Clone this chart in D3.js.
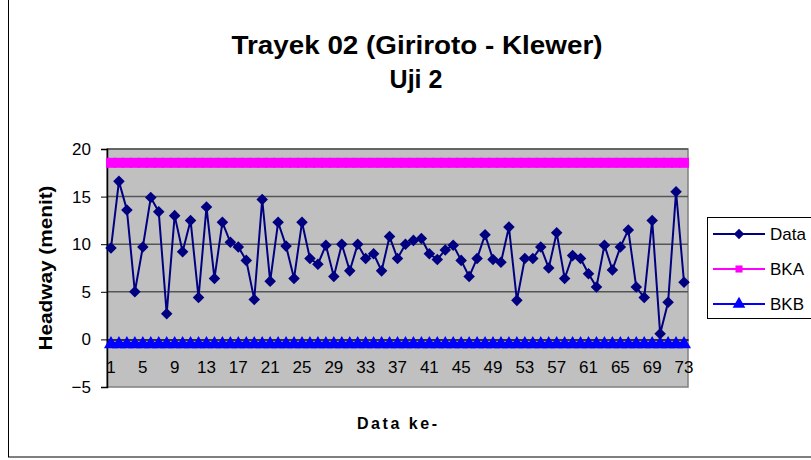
<!DOCTYPE html>
<html>
<head>
<meta charset="utf-8">
<script src="https://cdn.jsdelivr.net/npm/d3@7"></script>
<style>
	body { margin: 0; background: #fff; }
	svg { display: block; font-family: Arial, "Liberation Sans", sans-serif; }
</style>
</head>
<body>
<div id="chart"></div>
<script>
'use strict';

// headway per trip (menit)
const dataKe = d3.range(1, 74);
const headway = [
	9.6, 16.6, 13.6, 5.0, 9.7, 14.9, 13.4, 2.7, 13.0, 9.2,
	12.5, 4.4, 13.9, 6.4, 12.3, 10.2, 9.7, 8.3, 4.2, 14.7,
	6.1, 12.3, 9.8, 6.4, 12.3, 8.5, 7.9, 9.9, 6.6, 10.0,
	7.2, 10.0, 8.5, 9.0, 7.2, 10.8, 8.5, 10.0, 10.4, 10.6,
	9.0, 8.4, 9.4, 9.9, 8.3, 6.6, 8.5, 11.0, 8.4, 8.1,
	11.8, 4.1, 8.5, 8.5, 9.7, 7.5, 11.2, 6.4, 8.8, 8.5,
	6.9, 5.5, 9.9, 7.3, 9.7, 11.5, 5.5, 4.4, 12.5, 0.6,
	3.9, 15.5, 6.0
];
const bka = 18.55;   // batas kontrol atas
const bkb = -0.5;    // batas kontrol bawah
const yTicks = [-5, 0, 5, 10, 15, 20];
const xTickLabels = dataKe.filter(d => (d - 1) % 4 === 0);
const legendNames = ["Data", "BKA", "BKB"];

const width = 811, height = 460;
const plot = { left: 107, right: 688, top: 149, bottom: 387 };

const svg = d3.select("#chart")
	.append("svg")
		.attr("width", width)
		.attr("height", height);

// chart border
svg.append("rect")
	.attr("x", 8.5).attr("y", -2)
	.attr("width", width)
	.attr("height", 459)
	.attr("fill", "#fff")
	.attr("stroke", "#000")
	.attr("stroke-width", 1);

const xScale = d3.scaleBand()
	.domain(dataKe)
	.range([plot.left, plot.right])
	.padding(0)
	;
const xc = d => xScale(d) + xScale.bandwidth() / 2;

const yScale = d3.scaleLinear()
	.domain([-5, 20])
	.range([plot.bottom, plot.top])
	;

// plot area
svg.append("rect")
	.attr("x", plot.left).attr("y", plot.top)
	.attr("width", plot.right - plot.left)
	.attr("height", plot.bottom - plot.top)
	.attr("fill", "#c0c0c0")
	.attr("stroke", "#808080")
	.attr("stroke-width", 1.5);

// gridlines
svg.append("g")
	.selectAll("line")
	.data(yTicks.filter(t => t > 0))
	.join("line")
		.attr("x1", plot.left).attr("x2", plot.right)
		.attr("y1", d => yScale(d)).attr("y2", d => yScale(d))
		.attr("stroke", "#555")
		.attr("stroke-width", 1.5);

// y axis
const yAxis = svg.append("g")
	.attr("transform", `translate(${plot.left},0)`)
	.call(d3.axisLeft(yScale).tickValues(yTicks).tickSize(6).tickPadding(10));
yAxis.select(".domain").attr("stroke", "#000").attr("stroke-width", 1.5);
yAxis.selectAll("text").attr("font-size", 17).attr("fill", "#000").attr("font-family", "Arial, 'Liberation Sans', sans-serif");

// x axis crosses at 0
const xAxis = svg.append("g")
	.attr("transform", `translate(0,${yScale(0)})`)
	.call(d3.axisBottom(xScale).tickValues(xTickLabels).tickSize(0).tickPadding(22));
xAxis.select(".domain").attr("stroke", "#000").attr("stroke-width", 1.5);
xAxis.selectAll("text").attr("font-size", 17).attr("fill", "#000").attr("font-family", "Arial, 'Liberation Sans', sans-serif");

// BKA
const lineAt = v => d3.line().x(d => xc(d)).y(() => yScale(v));
svg.append("path")
	.datum(dataKe)
	.attr("d", lineAt(bka))
	.attr("fill", "none")
	.attr("stroke", "#ff00ff")
	.attr("stroke-width", 2);
svg.append("g")
	.selectAll("rect")
	.data(dataKe)
	.join("rect")
		.attr("x", d => xc(d) - 5).attr("y", yScale(bka) - 5)
		.attr("width", 10).attr("height", 10)
		.attr("fill", "#ff00ff");

// BKB
svg.append("path")
	.datum(dataKe)
	.attr("d", lineAt(bkb))
	.attr("fill", "none")
	.attr("stroke", "#0000ff")
	.attr("stroke-width", 5);
const tri = d3.symbol().type(d3.symbolTriangle).size(85);
svg.append("g")
	.selectAll("path")
	.data(dataKe)
	.join("path")
		.attr("d", tri)
		.attr("transform", d => `translate(${xc(d)},${yScale(bkb)})`)
		.attr("fill", "#0000ff");

// data series
const lineGenerator = d3.line()
	.x((d, i) => xc(dataKe[i]))
	.y(d => yScale(d))
	;
svg.append("path")
	.datum(headway)
	.attr("d", lineGenerator)
	.attr("fill", "none")
	.attr("stroke", "#000080")
	.attr("stroke-width", 2);
const diamond = d3.symbol().type(d3.symbolDiamond2).size(85);
svg.append("g")
	.selectAll("path")
	.data(headway)
	.join("path")
		.attr("d", diamond)
		.attr("transform", (d, i) => `translate(${xc(dataKe[i])},${yScale(d)})`)
		.attr("fill", "#000080");

// titles
svg.append("text")
	.attr("x", 417).attr("y", 54)
	.attr("text-anchor", "middle")
	.attr("font-size", 25).attr("font-weight", "bold")
	.attr("textLength", 371).attr("lengthAdjust", "spacingAndGlyphs")
	.text("Trayek 02 (Giriroto - Klewer)");
svg.append("text")
	.attr("x", 416).attr("y", 88)
	.attr("text-anchor", "middle")
	.attr("font-size", 25).attr("font-weight", "bold")
	.text("Uji 2");
svg.append("text")
	.attr("transform", `translate(52,${(plot.top + plot.bottom) / 2}) rotate(-90)`)
	.attr("text-anchor", "middle")
	.attr("font-size", 19).attr("font-weight", "bold")
	.attr("textLength", 165).attr("lengthAdjust", "spacingAndGlyphs")
	.text("Headway (menit)");
svg.append("text")
	.attr("x", 397).attr("y", 429)
	.attr("text-anchor", "middle")
	.attr("font-size", 16).attr("font-weight", "bold")
	.attr("textLength", 80).attr("lengthAdjust", "spacing")
	.text("Data ke-");

// legend
const legend = svg.append("g");
legend.append("rect")
	.attr("x", 707.5).attr("y", 217.5)
	.attr("width", 120).attr("height", 101)
	.attr("fill", "#fff")
	.attr("stroke", "#000");
const legendColor = ["#000080", "#ff00ff", "#0000ff"];
const legendMarker = [
	d3.symbol().type(d3.symbolDiamond2).size(70),
	d3.symbol().type(d3.symbolSquare).size(50),
	d3.symbol().type(d3.symbolTriangle).size(70)
];
const entry = legend.selectAll("g.entry")
	.data(legendNames)
	.join("g")
		.attr("class", "entry")
		.attr("transform", (d, i) => `translate(0,${234 + i * 35})`);
entry.append("line")
	.attr("x1", 713).attr("x2", 765)
	.attr("stroke", (d, i) => legendColor[i])
	.attr("stroke-width", 2);
entry.append("path")
	.attr("d", (d, i) => legendMarker[i]())
	.attr("transform", "translate(739,0)")
	.attr("fill", (d, i) => legendColor[i]);
entry.append("text")
	.attr("x", 770).attr("y", 6)
	.attr("font-size", 17)
	.text(d => d);
</script>
</body>
</html>
